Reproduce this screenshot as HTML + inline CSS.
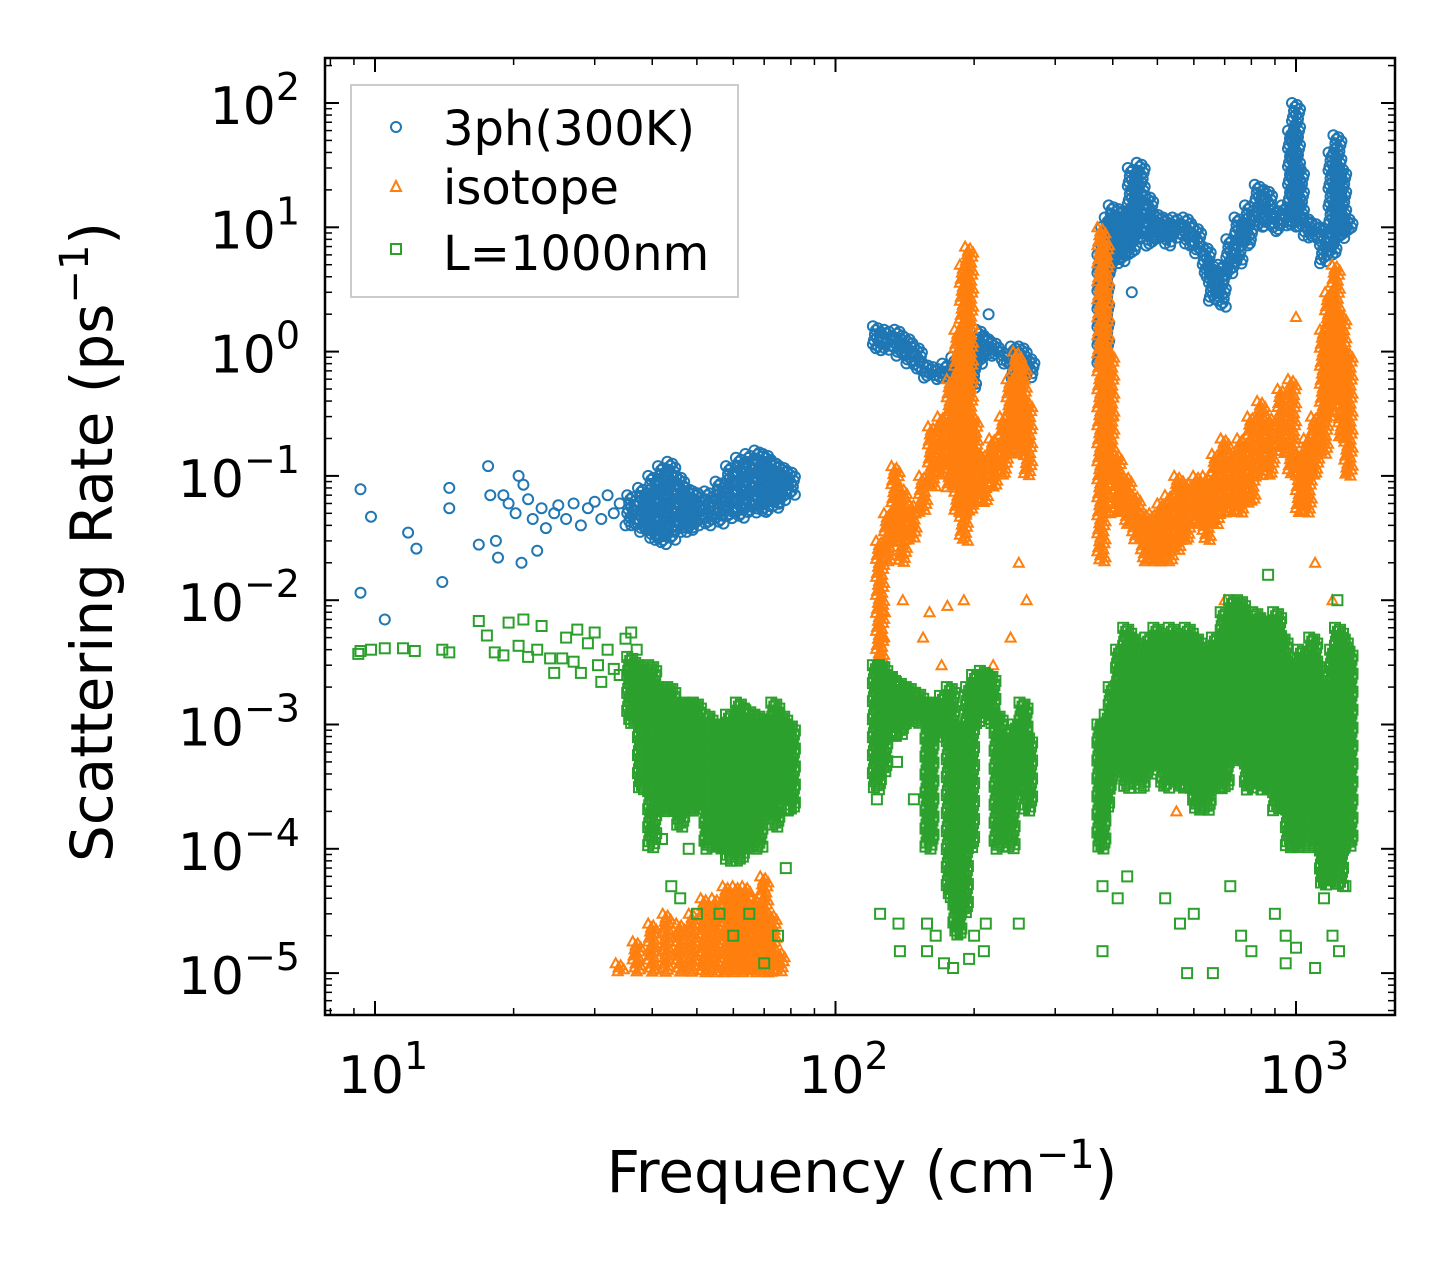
<!DOCTYPE html>
<html><head><meta charset="utf-8"><style>
html,body{margin:0;padding:0;background:#fff;}
svg{display:block;font-family:"DejaVu Sans","Liberation Sans",sans-serif;}
</style></head><body>
<svg id="chart" width="1455" height="1265" viewBox="0 0 1455 1265" xmlns="http://www.w3.org/2000/svg">
<rect width="1455" height="1265" fill="#fff"/>
<g id="marks"></g>
<g id="axes"></g>
<g id="legend">
<rect x="351" y="85" width="387" height="212" fill="#fff" fill-opacity="0.8" stroke="#cccccc" stroke-width="2"/>
<circle cx="396" cy="127" r="5" fill="none" stroke="#1f77b4" stroke-width="2"/>
<text x="443" y="145" font-size="48">3ph(300K)</text>
<polygon points="396,181 401,191 391,191" fill="none" stroke="#ff7f0e" stroke-width="2"/>
<text x="443" y="204" font-size="48">isotope</text>
<rect x="391" y="244" width="10" height="10" fill="none" stroke="#2ca02c" stroke-width="2"/>
<text x="443" y="270" font-size="48">L=1000nm</text>
</g>
<text x="862" y="1192" font-size="58" text-anchor="middle">Frequency (cm<tspan dy="-24" font-size="40">−1</tspan><tspan dy="24">)</tspan></text>
<text transform="translate(112,542) rotate(-90)" font-size="58" text-anchor="middle">Scattering Rate (ps<tspan dy="-24" font-size="40">−1</tspan><tspan dy="24">)</tspan></text>
</svg>
<script>
// ---- data ----
const xTicks = [10, 100, 1000];
const xTickExp = ["1", "2", "3"];
const yTicks = [100, 10, 1, 0.1, 0.01, 0.001, 0.0001, 0.00001];
const yTickExp = ["2", "1", "0", "−1", "−2", "−3", "−4", "−5"];

const bluePoints = [[9.3,0.078],[9.3,0.0115],[9.8,0.047],[10.5,0.007],[11.8,0.035],[12.3,0.026],[14,0.014],[14.5,0.08],[14.5,0.055],[16.8,0.028],[17.6,0.12],[17.8,0.07],[18.3,0.03],[18.5,0.022],[19,0.07],[19.5,0.06],[20.2,0.05],[20.5,0.1],[20.8,0.02],[21,0.085],[21.5,0.065],[22,0.045],[22.5,0.025],[23,0.055],[23.5,0.038],[24.5,0.05],[25,0.058],[26,0.045],[27,0.06],[28,0.04],[29,0.055],[30,0.062],[31,0.045],[32,0.07],[33,0.05],[34,0.06],[35,0.04],[215,2.0],[440,3.0]];
const blueBands = [[36,0.04,0.07],[38,0.035,0.08],[40,0.03,0.1],[42,0.028,0.12],[44,0.03,0.13],[46,0.035,0.1],[48,0.035,0.08],[50,0.038,0.075],[53,0.04,0.075],[56,0.04,0.09],[59,0.045,0.12],[62,0.045,0.14],[65,0.05,0.15],[68,0.05,0.16],[71,0.05,0.15],[74,0.055,0.13],[77,0.06,0.12],[80,0.07,0.11],
[123,1.0,1.6],[130,1.0,1.5],[137,0.9,1.5],[144,0.8,1.3],[151,0.7,1.1],[158,0.6,0.8],[166,0.6,0.75],[174,0.6,0.8],[182,0.45,0.9],[190,0.35,1.0],[198,0.5,1.2],[206,0.8,1.5],[214,0.9,1.3],[222,0.9,1.2],[232,0.8,1.0],[245,0.6,1.1],[255,0.6,1.1],[265,0.6,0.9],
[378,0.8,6],[385,1,10],[392,4,12],[400,5,15],[420,5,14],[440,6,30],[460,8,33],[480,7,18],[500,8,13],[525,7,12],[550,8,12],[580,7,12],[610,6,10],[640,4,7],[660,2.5,5],[690,2.3,5],[720,4,8],[750,5,12],[790,7,15],[830,10,22],[870,10,20],[910,9,14],[950,10,15],[980,10,60],[1000,12,100],[1020,10,30],[1060,8,12],[1100,8,11],[1150,5,10],[1200,6,40],[1230,8,55],[1260,8,30],[1300,9,12]];

const orangePoints = [[125,0.0015],[127,0.005],[128,0.008],[140,0.01],[155,0.005],[160,0.008],[170,0.003],[175,0.009],[190,0.01],[200,0.002],[220,0.003],[240,0.005],[250,0.02],[260,0.01],[400,0.3],[395,0.05],[500,0.002],[550,0.0002],[600,0.0003],[700,0.01],[900,0.002],[1200,0.01],[1250,0.0008],[1100,0.02],[1000,1.9],[780,0.004]];
const orangeBands = [[34,1e-5,1.2e-5],[37,1e-5,1.8e-5],[40,1e-5,2.5e-5],[43,1e-5,3e-5],[46,1e-5,2.5e-5],[49,1e-5,3e-5],[52,1e-5,4e-5],[55,1e-5,4e-5],[58,1e-5,5e-5],[61,1e-5,5e-5],[64,1e-5,5e-5],[67,1e-5,4e-5],[70,1e-5,6e-5],[73,1e-5,3e-5],[76,1e-5,1.5e-5],
[125,0.003,0.03],[130,0.02,0.05],[135,0.03,0.12],[140,0.02,0.08],[147,0.03,0.06],[155,0.05,0.1],[162,0.08,0.25],[170,0.1,0.3],[178,0.08,0.6],[185,0.05,1.5],[190,0.03,5],[195,0.05,7],[200,0.06,0.3],[210,0.06,0.15],[220,0.08,0.2],[232,0.1,0.3],[240,0.15,0.6],[248,0.15,1.0],[255,0.2,0.8],[262,0.1,0.4],
[378,0.02,10],[385,0.05,8],[395,0.1,1],[410,0.05,0.15],[430,0.04,0.1],[450,0.03,0.07],[470,0.02,0.05],[490,0.02,0.05],[510,0.02,0.06],[530,0.02,0.07],[555,0.025,0.1],[580,0.03,0.09],[610,0.04,0.1],[640,0.03,0.1],[670,0.04,0.15],[700,0.05,0.2],[730,0.05,0.15],[760,0.05,0.2],[800,0.06,0.3],[840,0.1,0.4],[880,0.1,0.3],[930,0.15,0.5],[980,0.1,0.6],[1020,0.05,0.15],[1060,0.05,0.2],[1100,0.1,0.3],[1150,0.15,1.5],[1180,0.3,3],[1220,0.4,5],[1260,0.2,2],[1300,0.1,1]];

const greenPoints = [[9.2,0.0037],[9.3,0.0039],[9.8,0.004],[10.5,0.0041],[11.5,0.0041],[12.2,0.0039],[14,0.004],[14.5,0.0038],[16.8,0.0068],[17.5,0.0052],[18.2,0.0038],[19,0.0036],[19.5,0.0066],[20.5,0.0043],[21.5,0.0035],[21,0.007],[22.5,0.004],[23,0.0062],[24,0.0034],[24.5,0.0026],[25.5,0.0034],[26,0.005],[27,0.0032],[27.5,0.0058],[28,0.0026],[29,0.0045],[30,0.0055],[30.5,0.003],[31,0.0022],[32,0.004],[33,0.0028],[34,0.0025],[35,0.0049],[36,0.0055],[37,0.004],[38,0.0027],[39,0.0012],[40,0.0015],[42,0.00012],[44,0.00005],[46,0.00004],[48,0.0001],[50,0.00003],[56,0.00003],[60,0.00002],[65,0.00003],[70,0.000012],[75,0.00002],[78,0.00007],
[123,0.00025],[125,0.00003],[137,0.000025],[138,0.000015],[158,0.000025],[158,0.000015],[165,0.00002],[172,0.000012],[180,0.000011],[195,0.000013],[200,0.00002],[210,0.000015],[212,0.000025],[250,0.000025],[148,0.00025],[136,0.0005],
[380,0.00005],[380,0.000015],[430,0.00006],[520,0.00004],[560,0.000025],[580,0.00001],[600,0.00003],[660,0.00001],[720,0.00005],[760,0.00002],[800,0.000015],[900,0.00003],[950,0.000012],[950,0.00002],[1000,0.000016],[1100,0.000011],[1150,0.00004],[1200,0.00002],[1240,0.000015],[1280,0.00005],[410,0.00004],[870,0.016],[1230,0.01]];
const greenBands = [[36,0.001,0.0035],[38,0.0003,0.003],[40,0.0001,0.003],[42,0.0002,0.002],[44,0.0002,0.002],[46,0.00015,0.0015],[48,0.0002,0.0015],[50,0.0002,0.0015],[53,0.0001,0.0012],[56,0.0001,0.001],[59,0.00008,0.0012],[62,0.00008,0.0015],[65,0.0001,0.0013],[68,0.0001,0.0012],[71,0.0002,0.0011],[74,0.00015,0.0015],[77,0.0003,0.0012],[80,0.0002,0.001],
[123,0.0003,0.003],[127,0.0004,0.003],[132,0.0008,0.0025],[138,0.0008,0.0022],[145,0.001,0.002],[152,0.001,0.0018],[160,0.0001,0.0015],[166,0.0008,0.0015],[172,0.0009,0.0017],[178,0.00004,0.002],[184,0.00002,0.001],[190,0.00003,0.0006],[196,0.0001,0.002],[202,0.001,0.0025],[210,0.0012,0.0027],[218,0.001,0.0025],[226,0.0001,0.0012],[233,0.0002,0.0008],[240,0.0001,0.0009],[248,0.0003,0.001],[256,0.0004,0.0015],[262,0.0002,0.0008],
[378,0.0001,0.001],[385,0.0002,0.001],[392,0.0003,0.0012],[400,0.0004,0.002],[415,0.0005,0.004],[430,0.0003,0.006],[445,0.0004,0.005],[460,0.0003,0.004],[480,0.0004,0.005],[500,0.0005,0.006],[520,0.0003,0.005],[540,0.0004,0.006],[560,0.0003,0.005],[585,0.0003,0.006],[610,0.0002,0.005],[640,0.0002,0.004],[670,0.0003,0.005],[700,0.0003,0.008],[730,0.0005,0.01],[760,0.0005,0.01],[790,0.0003,0.007],[820,0.0004,0.008],[850,0.0003,0.007],[880,0.0003,0.006],[910,0.0002,0.008],[940,0.0002,0.005],[970,0.0001,0.003],[1000,0.0001,0.002],[1030,0.0002,0.004],[1060,0.0001,0.003],[1090,0.0003,0.005],[1120,0.0001,0.003],[1150,0.00005,0.001],[1180,0.0001,0.002],[1210,0.0001,0.004],[1240,0.00005,0.006],[1270,0.0002,0.005],[1300,0.0001,0.004]];

// ---- axes ----
const L = 325, R = 1395, T = 58, B = 1015;
const X10 = 375, XDEC = 460.5;
const Y100 = 103, YDEC = 124.3;
function xs(f){ return X10 + XDEC * (Math.log10(f) - 1); }
function ys(v){ return Y100 + YDEC * (2 - Math.log10(v)); }
const NS = "http://www.w3.org/2000/svg";
function mk(tag, attrs, parent){ const e = document.createElementNS(NS, tag); for (const k in attrs) e.setAttribute(k, attrs[k]); parent.appendChild(e); return e; }

const marks = document.getElementById('marks');
const axes = document.getElementById('axes');
const colors = {blue:"#1f77b4", orange:"#ff7f0e", green:"#2ca02c"};

function marker(kind, x, y, g){
  let e;
  if (kind === 'blue') e = mk('circle', {cx:x.toFixed(1), cy:y.toFixed(1), r:5, fill:'none', stroke:colors.blue, 'stroke-width':2}, g);
  else if (kind === 'orange') e = mk('polygon', {points:`${x.toFixed(1)},${(y-5).toFixed(1)} ${(x+5).toFixed(1)},${(y+4).toFixed(1)} ${(x-5).toFixed(1)},${(y+4).toFixed(1)}`, fill:'none', stroke:colors.orange, 'stroke-width':2}, g);
  else e = mk('rect', {x:(x-5).toFixed(1), y:(y-5).toFixed(1), width:10, height:10, fill:'none', stroke:colors.green, 'stroke-width':2}, g);
  return e;
}
const offs = [-4, 1, -1, 4, -2, 3, 0, -3, 2];
function drawSeries(kind, points, bands){
  const g = mk('g', {}, marks);
  
  
  points.forEach(p => {
    const m = marker(kind, xs(p[0]), ys(p[1]), g);
    
    
  });
  bands.forEach(b => {
    const x = xs(b[0]), y1 = ys(b[2]), y2 = ys(b[1]);
    let i = 0;
    for (let y = y1; y <= y2 + 0.1; y += 2, i++) {
      const m = marker(kind, x + offs[i % offs.length], y, g);
      
      
    }
  });
}
drawSeries('blue', bluePoints, blueBands);
drawSeries('orange', orangePoints, orangeBands);
drawSeries('green', greenPoints, greenBands);

// frame
const frame = mk('rect', {x:L, y:T, width:R-L, height:B-T, fill:'none', stroke:'#000', 'stroke-width':2.5}, axes);



// x ticks
for (let d = 0; d <= 3; d++) {
  for (let m = 1; m <= 9; m++) {
    const f = Math.pow(10, d) * m;
    const x = xs(f);
    if (x < L || x > R) continue;
    const len = m === 1 ? 14 : 7;
    const w = m === 1 ? 2 : 1.5;
    mk('line', {x1:x, y1:B, x2:x, y2:B-len, stroke:'#000', 'stroke-width':w}, axes);
    mk('line', {x1:x, y1:T, x2:x, y2:T+len, stroke:'#000', 'stroke-width':w}, axes);
  }
}
xTicks.forEach((v, i) => {
  const t = mk('text', {x:xs(v) + 8, y:1093, 'font-size':52, 'text-anchor':'middle'}, axes);
  
  
  t.innerHTML = '10<tspan dy="-24" font-size="38">' + xTickExp[i] + '</tspan>';
});
// y ticks
for (let d = -6; d <= 2; d++) {
  for (let m = 1; m <= 9; m++) {
    const v = Math.pow(10, d) * m;
    const y = ys(v);
    if (y < T || y > B) continue;
    const len = m === 1 ? 14 : 7;
    const w = m === 1 ? 2 : 1.5;
    mk('line', {x1:L, y1:y, x2:L+len, y2:y, stroke:'#000', 'stroke-width':w}, axes);
    mk('line', {x1:R, y1:y, x2:R-len, y2:y, stroke:'#000', 'stroke-width':w}, axes);
  }
}
yTicks.forEach((v, i) => {
  const t = mk('text', {x:300, y:ys(v) + 21, 'font-size':52, 'text-anchor':'end'}, axes);
  
  
  t.innerHTML = '10<tspan dy="-24" font-size="38">' + yTickExp[i] + '</tspan>';
});
</script>
</body></html>
